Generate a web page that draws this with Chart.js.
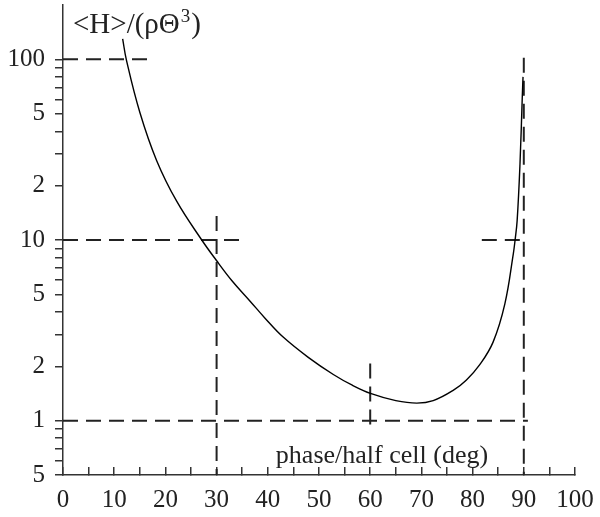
<!DOCTYPE html>
<html>
<head>
<meta charset="utf-8">
<script src="https://cdn.jsdelivr.net/npm/chart.js@4"></script>
<style>
  html, body { margin: 0; padding: 0; background: #fff; }
  #wrap { width: 600px; height: 517px; }
</style>
</head>
<body>
<div id="wrap"><canvas id="phaseChart"></canvas></div>
<script>
// curve
const phase = [11.65, 12.4, 15.0, 18.3, 22.2, 27.1, 29.9, 33.0, 36.5, 39.5, 43.0, 47.9, 52.8, 56.5, 60.2, 65.0, 69.1, 72.3, 76.2, 78.8, 81.4, 84.0, 86.3, 87.95, 88.3, 88.7, 89.26, 89.7, 89.85];
const ratio = [130, 98.7, 51, 27.5, 16.4, 10, 7.75, 5.95, 4.6, 3.68, 2.9, 2.24, 1.8, 1.57, 1.41, 1.29, 1.25, 1.29, 1.47, 1.68, 2.04, 2.72, 4.43, 8.39, 10, 12.8, 26.5, 61.6, 80];

// dashed guide segments: [x1, y1, x2, y2]
const guides = [
  [0, 100, 17.6, 100],
  [0, 10, 35, 10],
  [0, 1, 90.8, 1],
  [81.8, 10, 90, 10],
  [30, 13.6, 30, 0.5],
  [60, 2.07, 60, 0.915],
  [90, 102, 90, 0.5],
];

const yTickValues = [0.5, 0.6, 0.7, 0.8, 0.9, 1, 2, 3, 4, 5, 6, 7, 8, 9, 10, 20, 30, 40, 50, 60, 70, 80, 90, 100];
const yLabelValues = [0.5, 1, 2, 5, 10, 20, 50, 100];
const yLabelTexts = ["5", "1", "2", "5", "10", "2", "5", "100"];
const xLabelStep = 10;

const yTitle = ["<H>/(ρΘ", "3", ")"];
const xTitle = "phase/half cell (deg)";

const serif = "'Liberation Serif', 'DejaVu Serif', serif";
const ink = "#222";

const textPlugin = {
  id: "plotText",
  afterDraw(chart) {
    const ctx = chart.ctx;
    const xs = chart.scales.x;
    ctx.save();
    ctx.fillStyle = ink;
    ctx.textBaseline = "alphabetic";
    ctx.textAlign = "left";
    // y title with a real superscript
    let x = 73;
    ctx.font = "29px " + serif;
    ctx.fillText(yTitle[0], x, 33);
    x += ctx.measureText(yTitle[0]).width + 1;
    ctx.font = "19px " + serif;
    ctx.fillText(yTitle[1], x, 22);
    x += ctx.measureText(yTitle[1]).width + 1;
    ctx.font = "29px " + serif;
    ctx.fillText(yTitle[2], x, 33);
    // x title sits inside the plot
    ctx.font = "26px " + serif;
    ctx.textAlign = "center";
    ctx.fillText(xTitle, xs.getPixelForValue(62.3), 463);
    ctx.restore();
  },
};

function noPad(s) {
  s.paddingTop = 0;
  s.paddingBottom = 0;
  s.paddingLeft = 0;
  s.paddingRight = 0;
}

function createPhaseChart() {
  const ctx = document.getElementById("phaseChart");
  if (!ctx) return;

  const guideSets = guides.map((g) => ({
    data: [{ x: g[0], y: g[1] }, { x: g[2], y: g[3] }],
    borderColor: ink,
    borderWidth: 2,
    borderDash: [15, 8],
    pointRadius: 0,
    fill: false,
  }));

  return new Chart(ctx, {
    type: "line",
    data: {
      datasets: [
        {
          data: phase.map((x, i) => ({ x, y: ratio[i] })),
          borderColor: "#000",
          borderWidth: 1.4,
          pointRadius: 0,
          tension: 0.4,
          fill: false,
        },
        ...guideSets,
      ],
    },
    options: {
      responsive: true,
      maintainAspectRatio: false,
      animation: false,
      layout: { padding: { top: 5, right: 25, left: 0, bottom: 0 } },
      plugins: {
        legend: { display: false },
        tooltip: { enabled: false },
      },
      scales: {
        x: {
          type: "linear",
          min: 0,
          max: 100,
          border: { color: "#333", width: 1.5 },
          grid: { drawOnChartArea: false, tickLength: -8, color: "#333", lineWidth: 1.5 },
          ticks: {
            stepSize: 5,
            padding: 18,
            color: ink,
            font: { family: serif, size: 25 },
            maxRotation: 0,
            autoSkip: false,
            callback: (v) => (v % xLabelStep === 0 ? String(v) : ""),
          },
          afterFit: (s) => { s.height = 42; noPad(s); },
        },
        y: {
          type: "logarithmic",
          min: 0.5,
          max: 200,
          border: { color: "#333", width: 1.5 },
          grid: { drawOnChartArea: false, tickLength: 8, color: "#333", lineWidth: 1.5 },
          afterBuildTicks: (s) => { s.ticks = yTickValues.map((value) => ({ value })); },
          ticks: {
            padding: 10,
            color: ink,
            autoSkip: false,
            font: { family: serif, size: 25 },
            callback: (v) => {
              const i = yLabelValues.indexOf(v);
              return i >= 0 ? yLabelTexts[i] : "";
            },
          },
          afterFit: (s) => { s.width = 63; noPad(s); },
        },
      },
    },
    plugins: [textPlugin],
  });
}

document.addEventListener("DOMContentLoaded", createPhaseChart);
</script>
</body>
</html>
